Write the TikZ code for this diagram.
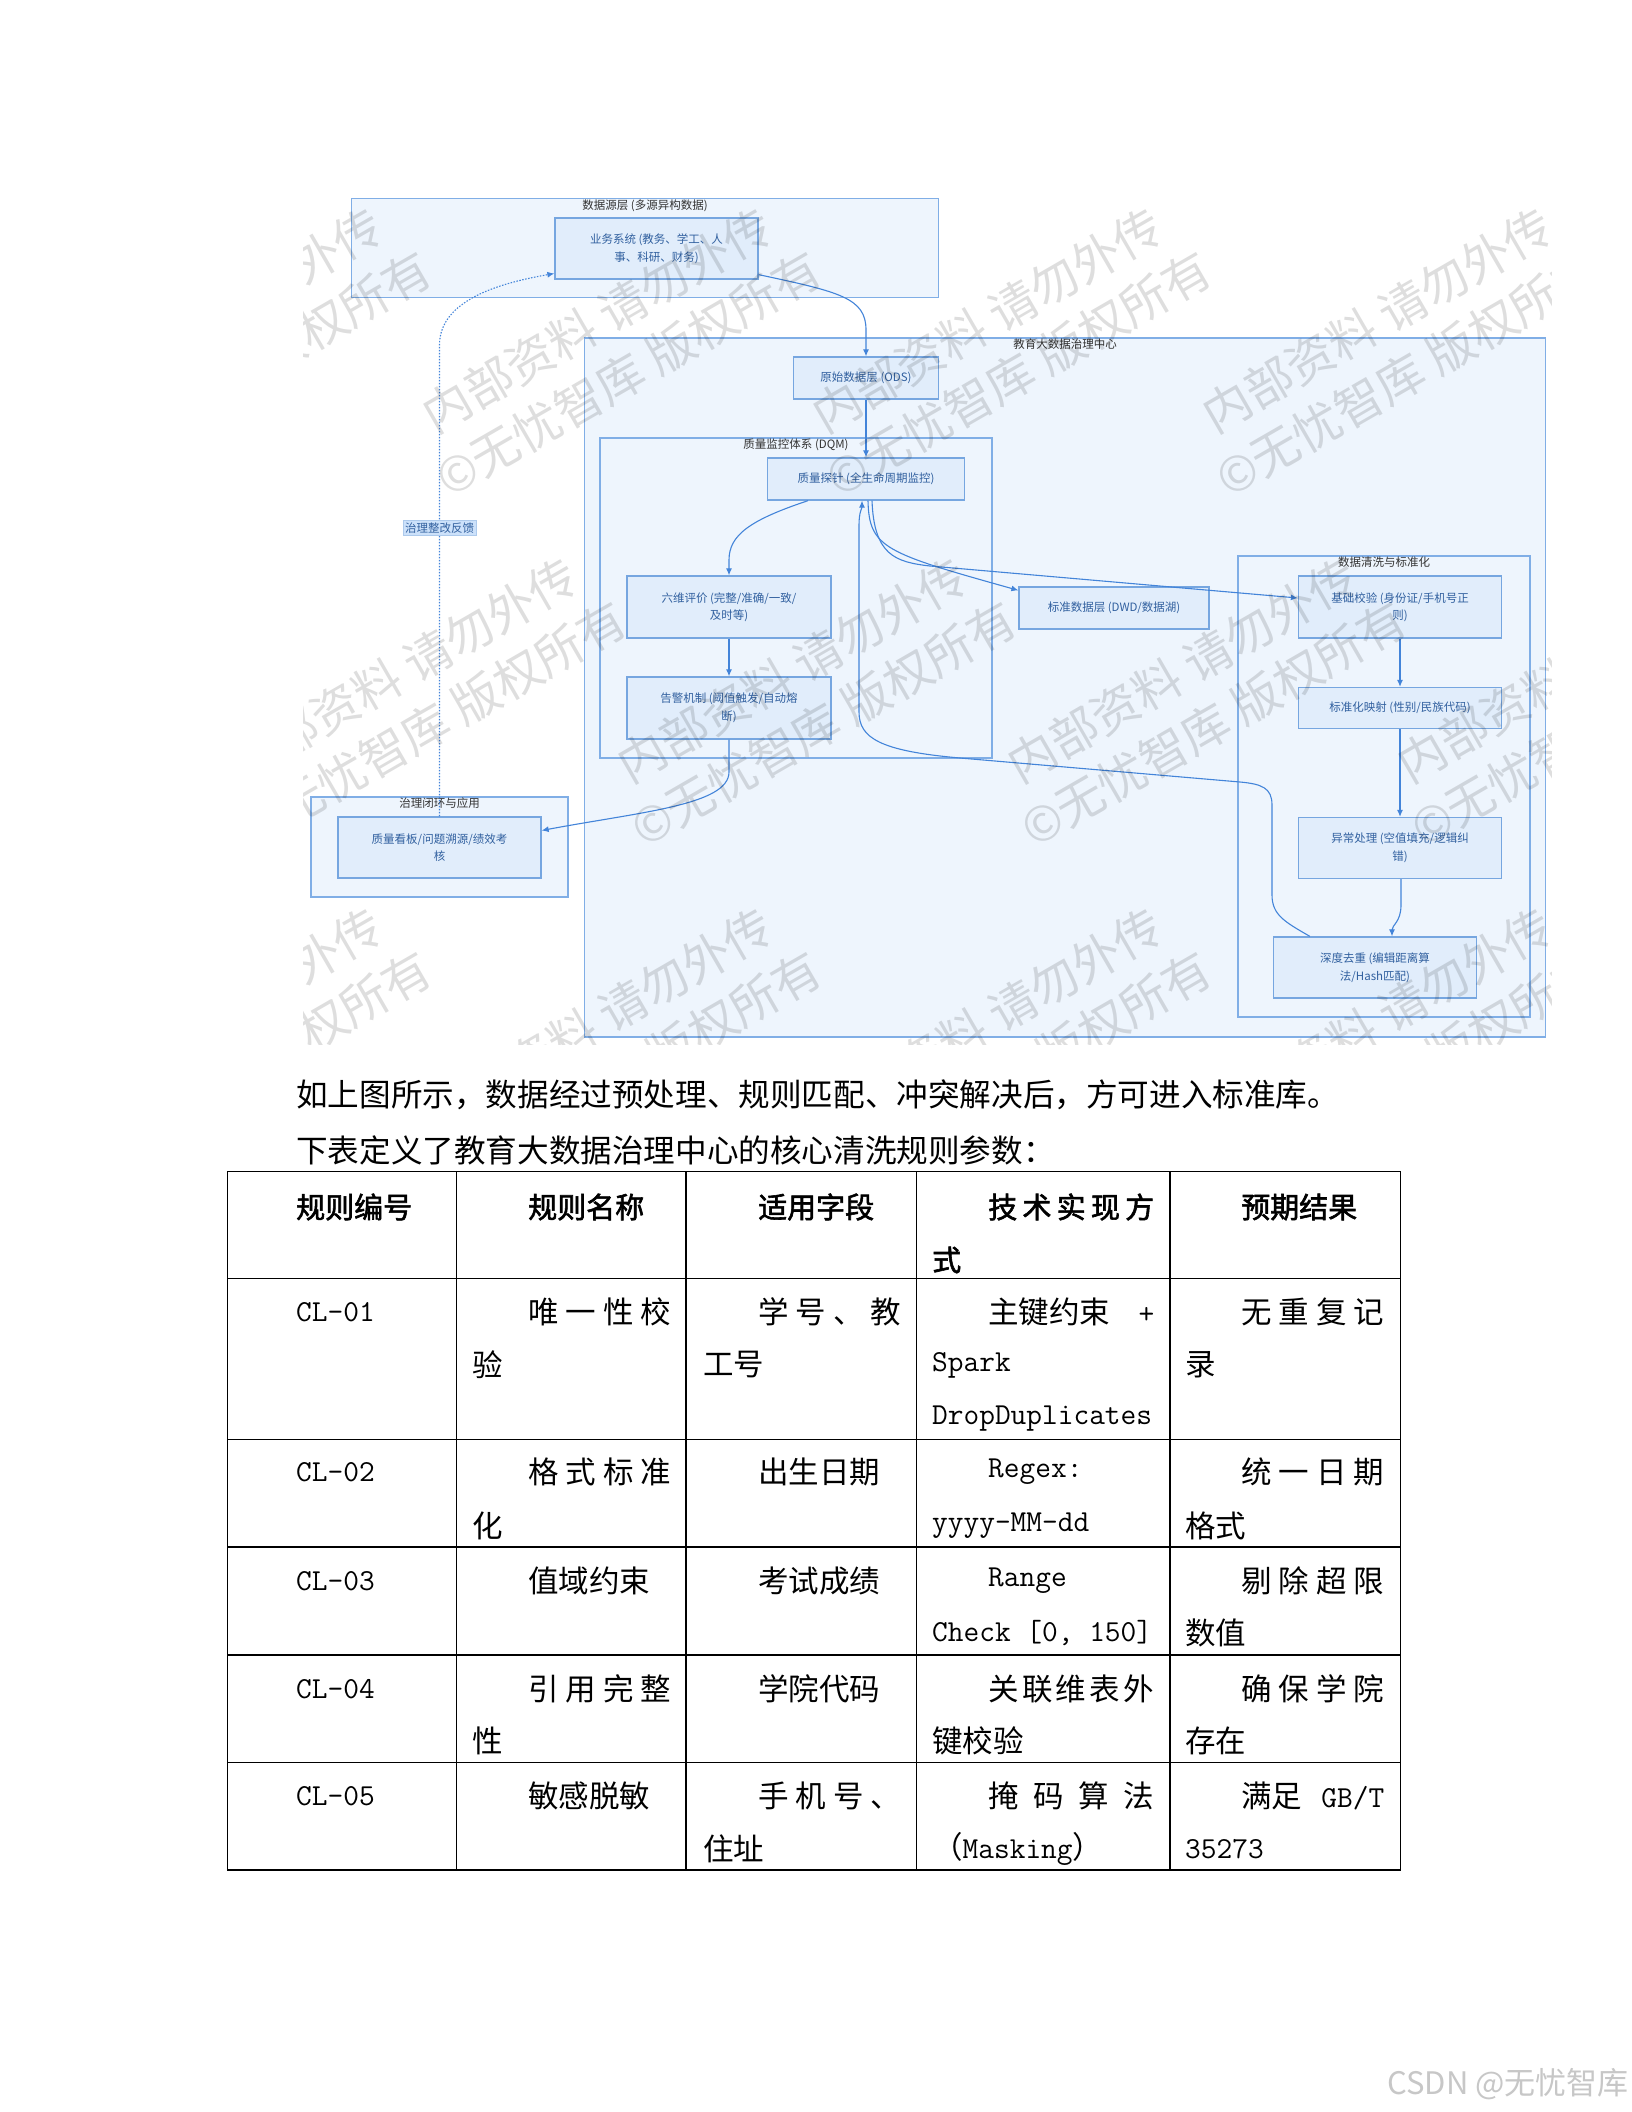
\documentclass[tikz,border=0pt]{standalone}
\usepackage{fontspec}
\setmainfont{Noto Sans CJK SC}[AutoFakeBold=2]
\usepackage{tikz}
\usetikzlibrary{arrows.meta,calc}
\definecolor{grpfill}{HTML}{EEF5FD}
\definecolor{grpline}{HTML}{80AEE6}
\definecolor{boxfill}{HTML}{E1EDFB}
\definecolor{boxline}{HTML}{76A6E0}
\definecolor{boxtext}{HTML}{31609F}
\definecolor{edgeblue}{HTML}{4384D9}
\definecolor{fbfill}{HTML}{CCE1FA}
\newcommand{\spreadline}[2]{\makebox[#1][s]{#2}}
\tikzset{
  grp/.style={draw=grpline,fill=grpfill,line width=1.3pt,inner sep=0pt},
  grptitle/.style={anchor=north,inner sep=1.5pt,text=black!80,font=\fontsize{11.5}{14}\selectfont},
  proc/.style={draw=boxline,fill=boxfill,line width=1.3pt,text=boxtext,align=center,inner sep=0pt,font=\fontsize{11.5}{17.5}\selectfont},
  flow/.style={draw=edgeblue,line width=1.1pt,-{Latex[length=7pt,width=6pt]}},
  fback/.style={flow,dash pattern=on 1.5pt off 1.5pt},
  fblabel/.style={fill=fbfill,draw=boxline!60,line width=0.6pt,text=boxtext,inner sep=2pt,font=\fontsize{11.5}{14}\selectfont},
  wmark/.style={text=black,text opacity=0.13,rotate=30,align=center,font=\fontsize{48}{62}\selectfont},
  cell/.style={anchor=west,inner sep=0pt,font=\fontsize{30.5}{31}\selectfont},
  headcell/.style={cell,font=\fontsize{29}{30}\selectfont\bfseries},
  bodyline/.style={anchor=west,inner sep=0pt,font=\fontsize{31.6}{32}\selectfont},
  tabrule/.style={line width=1.4pt}
}

\begin{document}
\begin{tikzpicture}[x=1pt,y=-1pt,>=Latex]
  \useasboundingbox (0,0) rectangle (1632,2112);
  \fill[white] (0,0) rectangle (1632,2112);

  \node[grp,minimum width=587pt,minimum height=99pt] (srcgrp) at (645,248) {};
  \node[grptitle] (srctitle) at (srcgrp.north) {数据源层 (多源异构数据)};
  \node[grp,minimum width=961pt,minimum height=699pt] (hubgrp) at (1065,687.5) {};
  \node[grptitle] (hubtitle) at (hubgrp.north) {教育大数据治理中心};
  \node[grp,minimum width=392pt,minimum height=320pt] (dqmgrp) at (796,598) {};
  \node[grptitle] (dqmtitle) at (dqmgrp.north) {质量监控体系 (DQM)};
  \node[grp,minimum width=292pt,minimum height=461pt] (clngrp) at (1384,786.5) {};
  \node[grptitle] (clntitle) at (clngrp.north) {数据清洗与标准化};
  \node[grp,minimum width=257pt,minimum height=100pt] (loopgrp) at (439.5,847) {};
  \node[grptitle] (looptitle) at (loopgrp.north) {治理闭环与应用};

  \node[proc,minimum width=203pt,minimum height=61pt] (biz) at (656.5,248.5) {业务系统 (教务、学工、人\\事、科研、财务)};
  \node[proc,minimum width=145pt,minimum height=42pt] (ods) at (866,378) {原始数据层 (ODS)};
  \node[proc,minimum width=197pt,minimum height=42pt] (probe) at (866,479) {质量探针 (全生命周期监控)};
  \node[proc,minimum width=204pt,minimum height=62pt] (six) at (729,607) {六维评价 (完整/准确/一致/\\及时等)};
  \node[proc,minimum width=204pt,minimum height=62pt] (alarm) at (729,708) {告警机制 (阈值触发/自动熔\\断)};
  \node[proc,minimum width=190pt,minimum height=42pt] (dwd) at (1114,608) {标准数据层 (DWD/数据湖)};
  \node[proc,minimum width=203pt,minimum height=62pt] (basic) at (1400,607) {基础校验 (身份证/手机号正\\则)};
  \node[proc,minimum width=203pt,minimum height=41pt] (map) at (1400,708) {标准化映射 (性别/民族代码)};
  \node[proc,minimum width=203pt,minimum height=61pt] (anom) at (1400,848) {异常处理 (空值填充/逻辑纠\\错)};
  \node[proc,minimum width=203pt,minimum height=61pt] (dedup) at (1375,967.5) {深度去重 (编辑距离算\\法/Hash匹配)};
  \node[proc,minimum width=203pt,minimum height=61pt] (dash) at (439.5,847.5) {质量看板/问题溯源/绩效考\\核};

  \draw[flow] ($(biz.south east)+(0,-5)$) .. controls (840,292) and (866,298) .. (866,330) -- (ods.north);
  \draw[flow] (ods) -- (probe);
  \draw[flow] ($(probe.south)+(-58,0)$) .. controls (750,520) and (729,535) .. (729,560) -- (six.north);
  \draw[flow] (six) -- (alarm);
  \draw[flow] (alarm.south) -- (729,772) .. controls (729,805) and (640,812) .. ($(dash.east)+(0,-17)$);
  \draw[flow] ($(probe.south)+(2,0)$) .. controls (869,548) and (885,553) .. ($(dwd.north west)+(0,4)$);
  \draw[flow] ($(probe.south)+(6,0)$) .. controls (874,555) and (895,562) .. (930,566) -- ($(basic.west)+(0,-9)$);
  \draw[flow] ($(dedup.north west)+(37,0)$) .. controls (1285,922) and (1272,915) .. (1272,895) -- (1272,805)
    .. controls (1272,788) and (1262,784) .. (1240,782) -- (960,758)
    .. controls (880,751) and (859,738) .. (859,712) -- (859,525)
    .. controls (859,512) and (862,508) .. ($(probe.south)+(-4,0)$);
  \draw[flow] (basic) -- (map);
  \draw[flow] (map) -- (anom);
  \draw[flow] ($(anom.south)+(1,0)$) -- (1401,905) .. controls (1401,922) and (1392,925) .. ($(dedup.north)+(17,0)$);
  \draw[fback] (dash.north) -- (439.5,345) .. controls (439.5,300) and (500,283) .. ($(biz.west)+(0,25)$);
  \node[fblabel] (fbtag) at (439.5,528) {治理整改反馈};

  \begin{scope}
    \clip (303,188) rectangle (1551,1044);
    \foreach \j/\ilo/\ihi in {0/-2/1,1/-2/1,2/-3/0}{
      \foreach \i in {\ilo,...,\ihi}{
        \node[wmark] (wm\i\j) at ({1003+390*\i+195*\j},{347+350*\j}) {内部资料 请勿外传\\©无忧智库 版权所有};
      }
    }
  \end{scope}

  \node[bodyline] (para1) at (296,1095) {如上图所示，数据经过预处理、规则匹配、冲突解决后，方可进入标准库。};
  \node[bodyline] (para2) at (296,1150) {下表定义了教育大数据治理中心的核心清洗规则参数：};

  \draw[tabrule] (227.5,1171.5) rectangle (1400.5,1870);
  \foreach \y in {1278.5,1439.5,1547,1655,1762.5}
    \draw[tabrule] (227.5,\y) -- (1400.5,\y);
  \foreach \x in {456.5,686,916.5,1170}
    \draw[tabrule] (\x,1171.5) -- (\x,1870);

  \node[headcell] (hA) at (296,1207) {规则编号};
  \node[headcell] (hB) at (528,1207) {规则名称};
  \node[headcell] (hC) at (758,1207) {适用字段};
  \node[headcell] (hD) at (988,1207) {\spreadline{166pt}{技\hfill 术\hfill 实\hfill 现\hfill 方}};
  \node[headcell] (hDb) at (932,1260) {式};
  \node[headcell] (hE) at (1241,1207) {预期结果};

  \node[cell] (aA) at (296,1312) {\ttfamily CL-01};
  \node[cell] (aB) at (528,1312) {\spreadline{143pt}{唯\hfill 一\hfill 性\hfill 校}};
  \node[cell] (aBb) at (472,1365) {验};
  \node[cell] (aC) at (758,1312) {\spreadline{143pt}{学\hfill 号\hfill 、\hfill 教}};
  \node[cell] (aCb) at (703,1365) {工号};
  \node[cell] (aD) at (988,1312) {\spreadline{166pt}{主键约束\hfill{\ttfamily +}}};
  \node[cell] (aDb) at (932,1365) {\ttfamily Spark};
  \node[cell] (aDc) at (932,1419) {\ttfamily DropDuplicates};
  \node[cell] (aE) at (1241,1312) {\spreadline{143pt}{无\hfill 重\hfill 复\hfill 记}};
  \node[cell] (aEb) at (1185,1365) {录};

  \node[cell] (bA) at (296,1472) {\ttfamily CL-02};
  \node[cell] (bB) at (528,1472) {\spreadline{143pt}{格\hfill 式\hfill 标\hfill 准}};
  \node[cell] (bBb) at (472,1526) {化};
  \node[cell] (bC) at (758,1472) {出生日期};
  \node[cell] (bD) at (988,1472) {\ttfamily Regex:};
  \node[cell] (bDb) at (932,1526) {\ttfamily yyyy-MM-dd};
  \node[cell] (bE) at (1241,1472) {\spreadline{143pt}{统\hfill 一\hfill 日\hfill 期}};
  \node[cell] (bEb) at (1185,1526) {格式};

  \node[cell] (cA) at (296,1581) {\ttfamily CL-03};
  \node[cell] (cB) at (528,1581) {值域约束};
  \node[cell] (cC) at (758,1581) {考试成绩};
  \node[cell] (cD) at (988,1581) {\ttfamily Range};
  \node[cell] (cDb) at (932,1633) {\ttfamily Check [0, 150]};
  \node[cell] (cE) at (1241,1581) {\spreadline{143pt}{剔\hfill 除\hfill 超\hfill 限}};
  \node[cell] (cEb) at (1185,1633) {数值};

  \node[cell] (dA) at (296,1689) {\ttfamily CL-04};
  \node[cell] (dB) at (528,1689) {\spreadline{143pt}{引\hfill 用\hfill 完\hfill 整}};
  \node[cell] (dBb) at (472,1741) {性};
  \node[cell] (dC) at (758,1689) {学院代码};
  \node[cell] (dD) at (988,1689) {\spreadline{166pt}{关\hfill 联\hfill 维\hfill 表\hfill 外}};
  \node[cell] (dDb) at (932,1741) {键校验};
  \node[cell] (dE) at (1241,1689) {\spreadline{143pt}{确\hfill 保\hfill 学\hfill 院}};
  \node[cell] (dEb) at (1185,1741) {存在};

  \node[cell] (eA) at (296,1796) {\ttfamily CL-05};
  \node[cell] (eB) at (528,1796) {敏感脱敏};
  \node[cell] (eC) at (758,1796) {\spreadline{143pt}{手\hfill 机\hfill 号\hfill 、}};
  \node[cell] (eCb) at (703,1849) {住址};
  \node[cell] (eD) at (988,1796) {\spreadline{166pt}{掩\hfill 码\hfill 算\hfill 法}};
  \node[cell] (eDb) at (932,1849) {（{\ttfamily Masking}）};
  \node[cell] (eE) at (1241,1796) {\spreadline{143pt}{满足\hfill{\ttfamily GB/T}}};
  \node[cell] (eEb) at (1185,1849) {\ttfamily 35273};

  \node[anchor=east,inner sep=0pt,text=black!22,font=\fontsize{31}{32}\selectfont] (csdn) at (1629,2084) {CSDN @无忧智库};
\end{tikzpicture}
\end{document}
